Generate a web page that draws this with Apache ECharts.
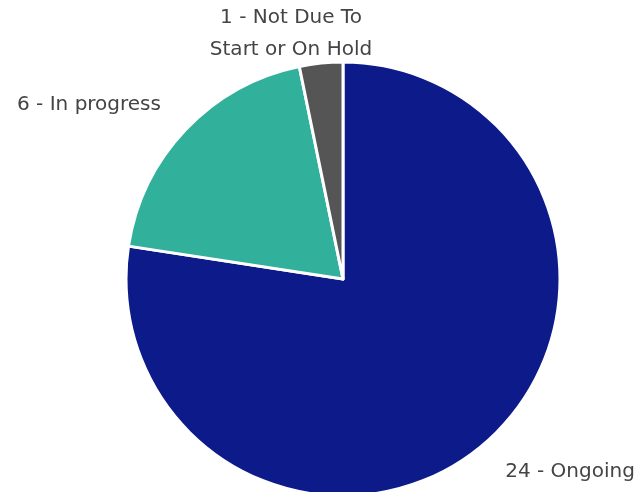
<!DOCTYPE html>
<html>
<head>
<meta charset="utf-8">
<script src="https://cdn.jsdelivr.net/npm/echarts@6/dist/echarts.min.js"></script>
<style>
  html, body { margin: 0; padding: 0; background: #fff; }
  #chart { width: 642px; height: 492px; }
</style>
</head>
<body>
<div id="chart"></div>
<script>
  // data
  const categories = ["Ongoing", "In progress", "Not Due To\nStart or On Hold"];
  const values = [24, 6, 1];
  const colors = ["#0d1a8a", "#31b09b", "#555555"];

  // label anchor points (text placement only)
  const labelPos = [
    { x: 570, y: 472, align: "center" },
    { x: 89, y: 105, align: "center" },
    { x: 291, y: 34, align: "center" },
  ];

  const chart = echarts.init(document.getElementById("chart"), null, { renderer: "canvas" });

  chart.setOption({
    animation: false,
    series: [
      {
        type: "pie",
        center: [343, 279],
        radius: 217,
        startAngle: 90,
        clockwise: true,
        data: values.map((v, i) => ({
          name: categories[i],
          value: v,
          itemStyle: { color: colors[i] },
        })),
        itemStyle: {
          borderColor: "#fff",
          borderWidth: 3,
        },
        label: {
          show: true,
          position: "outside",
          formatter: (p) => p.value + " - " + p.name,
          color: "#444444",
          fontSize: 20,
          fontFamily: "DejaVu Sans",
          lineHeight: 32,
          overflow: "none",
          width: 220,
          align: "center",
        },
        labelLine: { show: false },
        labelLayout: (p) => {
          const l = labelPos[p.dataIndex];
          return { x: l.x, y: l.y, align: l.align, verticalAlign: "middle" };
        },
      },
    ],
  });
</script>
</body>
</html>
